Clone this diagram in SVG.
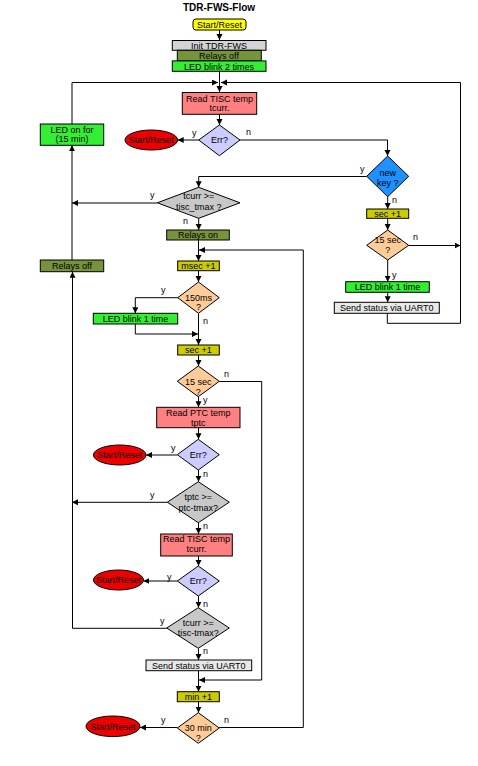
<svg xmlns="http://www.w3.org/2000/svg" width="478" height="766" viewBox="0 0 478 766">
<style>
text{font-family:"Liberation Sans",Arial,sans-serif;font-size:9px;fill:#000;text-anchor:middle}
.t{font-weight:bold;font-size:10px}
.l{text-anchor:start}
.b{stroke:#000;stroke-width:1}
.yel{fill:#ffff00}
.gry{fill:#d3d3d3}
.lgr{fill:#e8e8e8}
.olv{fill:#77933c}
.grn{fill:#33ee33}
.sal{fill:#ff8080}
.lav{fill:#ccccff}
.red{fill:#ee0000}
.pch{fill:#ffcc99}
.blu{fill:#1e90ff}
.dgr{fill:#c8c8c8}
.ylo{fill:#cccc00}
.c path{fill:none;stroke:#000;stroke-width:1;marker-end:url(#a)}
</style>
<defs>
<marker id="a" markerUnits="userSpaceOnUse" markerWidth="7" markerHeight="7" refX="6" refY="3" orient="auto">
<path d="M0,0 L6,3 L0,6 z" fill="#000"/>
</marker>
</defs>
<rect width="478" height="766" fill="#fff"/>
<text class="t" x="219" y="11">TDR-FWS-Flow</text>

<g class="c" id="connectors">
<path d="M219.5,30 V40"/>
<path d="M219.5,71.3 V92"/>
<path d="M72,124 V82.5 H218"/>
<path d="M387.3,313.3 V323.3 H460.5 V82.5 H221"/>
<path d="M219.5,114.3 V125"/>
<path d="M198.7,140 H177.7"/>
<path d="M240,140 H387.5 V156"/>
<path d="M366.7,176.5 H198.7 V187.3"/>
<path d="M387.7,196.7 V209"/>
<path d="M387.7,218.3 V230"/>
<path d="M408.7,245.5 H460.5"/>
<path d="M387.7,260 V281.7"/>
<path d="M387.7,292.3 V302.3"/>
<path d="M157.3,203 H72"/>
<path d="M198.7,218.3 V230"/>
<path d="M198.5,240 V261"/>
<path d="M219.3,727.5 H303.3 V250 H199"/>
<path d="M198.5,270.7 V282"/>
<path d="M177.7,297.7 H135.3 V313.3"/>
<path d="M135.3,324 V334 H198"/>
<path d="M198.5,313.3 V345"/>
<path d="M198.5,355 V366"/>
<path d="M219.3,381.5 H261.7 V680 H199"/>
<path d="M198.5,396.7 V407.3"/>
<path d="M198.5,427.7 V439.3"/>
<path d="M177.3,455 H146"/>
<path d="M198.5,470 V481.7"/>
<path d="M167.3,502.3 H72"/>
<path d="M198.5,522.7 V534"/>
<path d="M198.5,556 V566"/>
<path d="M177.3,581 H143.3"/>
<path d="M198.5,596 V607.7"/>
<path d="M166.7,628.3 H72.5 V271.7"/>
<path d="M198.5,648.3 V660"/>
<path d="M198.5,670.7 V691.7"/>
<path d="M198.5,701.7 V712.7"/>
<path d="M177.3,727.5 H140"/>
<path d="M72,260 V145.3"/>
</g>

<g id="labels">
<text class="l" x="192" y="136">y</text>
<text class="l" x="246" y="135">n</text>
<text class="l" x="360" y="172">y</text>
<text class="l" x="392" y="203">n</text>
<text class="l" x="150" y="198">y</text>
<text class="l" x="183" y="224">n</text>
<text class="l" x="413" y="240">n</text>
<text class="l" x="392" y="278">y</text>
<text class="l" x="161" y="293">y</text>
<text class="l" x="203" y="324">n</text>
<text class="l" x="224" y="377">n</text>
<text class="l" x="203" y="403">y</text>
<text class="l" x="171" y="451">y</text>
<text class="l" x="203" y="477">n</text>
<text class="l" x="150" y="498">y</text>
<text class="l" x="203" y="529">n</text>
<text class="l" x="167" y="580">y</text>
<text class="l" x="203" y="607">n</text>
<text class="l" x="160" y="624">y</text>
<text class="l" x="203" y="654">n</text>
<text class="l" x="161" y="723">y</text>
<text class="l" x="224" y="723">n</text>
</g>

<g id="start"><rect class="b yel" x="193" y="19" width="53" height="11" rx="3"/><text x="219.5" y="28">Start/Reset</text></g>
<g id="init"><rect class="b gry" x="172.3" y="40.5" width="93.7" height="9.8"/><text x="219" y="48.7">Init TDR-FWS</text></g>
<g id="relaysoff1"><rect class="b olv" x="177.3" y="50.3" width="84" height="10.6"/><text x="219" y="59">Relays off</text></g>
<g id="ledblink2"><rect class="b grn" x="172.3" y="60.9" width="93.7" height="10.4"/><text x="219" y="69.5">LED blink 2 times</text></g>

<g id="readtisc1"><rect class="b sal" x="182.3" y="92.5" width="74.4" height="21.8"/><text x="219.5" y="101.5">Read TISC temp</text><text x="219.5" y="111">tcurr.</text></g>
<g id="err1"><path class="b lav" d="M219.4,125 L240,140 L219.4,155.7 L198.7,140 z"/><text x="219.4" y="143.3">Err?</text></g>
<g id="reset1"><ellipse class="b red" cx="151.3" cy="140" rx="26.3" ry="10"/><text x="151.3" y="143">Start/Reset</text></g>
<g id="ledon"><rect class="b grn" x="40.3" y="124" width="63.4" height="21.3"/><text x="72" y="132.5">LED on for</text><text x="72" y="142">(15 min)</text></g>

<g id="newkey"><path class="b blu" d="M387.7,156 L408.7,176.3 L387.7,196.7 L366.7,176.3 z"/><text x="387.7" y="175.8">new</text><text x="387.7" y="185.5">key ?</text></g>
<g id="secplus2"><rect class="b ylo" x="366.7" y="209" width="42" height="9.3"/><text x="387.7" y="217">sec +1</text></g>
<g id="sec15b"><path class="b pch" d="M387.7,230 L408.7,245.3 L387.7,260 L366.7,245.3 z"/><text x="387.7" y="243">15 sec</text><text x="387.7" y="252.5">?</text></g>
<g id="ledblink1b"><rect class="b grn" x="345.7" y="281.7" width="83.6" height="10.6"/><text x="387.5" y="290.2">LED blink 1 time</text></g>
<g id="sendb"><rect class="b lgr" x="334.3" y="302.3" width="105" height="11"/><text x="386.8" y="311">Send status via UART0</text></g>

<g id="tcurr1"><path class="b dgr" d="M198.7,187.3 L240,202.8 L198.7,218.3 L157.3,202.8 z"/><text x="198.7" y="199">tcurr &gt;=</text><text x="198.7" y="210.3">tisc_tmax ?</text></g>
<g id="relayson"><rect class="b olv" x="166.7" y="230" width="62.6" height="10"/><text x="198" y="238.3">Relays on</text></g>
<g id="relaysoff2"><rect class="b olv" x="40.3" y="260" width="63.4" height="11.7"/><text x="72" y="269">Relays off</text></g>
<g id="msec"><rect class="b ylo" x="177.7" y="261" width="41.6" height="9.7"/><text x="198.5" y="269">msec +1</text></g>
<g id="ms150"><path class="b pch" d="M198.5,282 L219.3,297.7 L198.5,313.3 L177.7,297.7 z"/><text x="198.5" y="300.7">150ms</text><text x="198.5" y="310">?</text></g>
<g id="ledblink1a"><rect class="b grn" x="93.3" y="313.3" width="84.4" height="10.7"/><text x="135.5" y="322">LED blink 1 time</text></g>
<g id="secplus1"><rect class="b ylo" x="177.7" y="345" width="41.6" height="10"/><text x="198.5" y="353.3">sec +1</text></g>
<g id="sec15a"><path class="b pch" d="M198.3,366 L219.3,381.3 L198.3,396.7 L177.3,381.3 z"/><text x="198.3" y="384.5">15 sec</text><text x="198.3" y="394.5">?</text></g>
<g id="readptc"><rect class="b sal" x="156.7" y="407.3" width="83.3" height="20.4"/><text x="198.3" y="415.7">Read PTC temp</text><text x="198.3" y="425.5">tptc</text></g>
<g id="err2"><path class="b lav" d="M198.3,439.3 L219.3,454.7 L198.3,470 L177.3,454.7 z"/><text x="198.3" y="457.5">Err?</text></g>
<g id="reset2"><ellipse class="b red" cx="119.7" cy="455" rx="26.3" ry="10"/><text x="119.7" y="458">Start/Reset</text></g>
<g id="tptc"><path class="b dgr" d="M198.3,481.7 L229.3,502.2 L198.3,522.7 L167.3,502.2 z"/><text x="198.3" y="500.3">tptc &gt;=</text><text x="198.3" y="510.5">ptc-tmax?</text></g>
<g id="readtisc2"><rect class="b sal" x="160.7" y="534" width="71.6" height="22"/><text x="196.5" y="542.3">Read TISC temp</text><text x="196.5" y="552">tcurr.</text></g>
<g id="err3"><path class="b lav" d="M198.3,566 L219.3,581 L198.3,596 L177.3,581 z"/><text x="198.3" y="584.3">Err?</text></g>
<g id="reset3"><ellipse class="b red" cx="118.5" cy="580" rx="25" ry="10"/><text x="118.5" y="583">Start/Reset</text></g>
<g id="tcurr2"><path class="b dgr" d="M198.3,607.7 L229.3,628 L198.3,648.3 L166.7,628 z"/><text x="198.3" y="626.3">tcurr &gt;=</text><text x="198.3" y="636.3">tisc-tmax?</text></g>
<g id="senda"><rect class="b lgr" x="146" y="660" width="105.7" height="10.7"/><text x="198.8" y="668.5">Send status via UART0</text></g>
<g id="minplus"><rect class="b ylo" x="177.3" y="691.7" width="42" height="10"/><text x="198.3" y="699.8">min +1</text></g>
<g id="min30"><path class="b pch" d="M198.3,712.7 L219.3,728 L198.3,743.3 L177.3,728 z"/><text x="198.3" y="731.3">30 min</text><text x="198.3" y="740.5">?</text></g>
<g id="reset4"><ellipse class="b red" cx="113" cy="726.3" rx="27" ry="10.3"/><text x="113" y="729.5">Start/Reset</text></g>
</svg>
